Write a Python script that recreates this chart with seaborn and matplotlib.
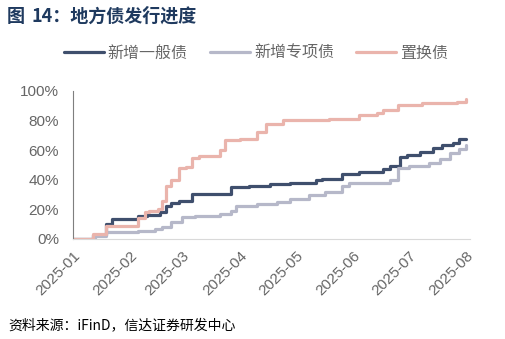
import matplotlib
matplotlib.use("Agg")
import matplotlib.pyplot as plt
from matplotlib.lines import Line2D
import seaborn as sns
import pandas as pd

# ---- data ----
dates_general = ["2025-01-01","2025-01-12","2025-01-19","2025-01-22","2025-02-05","2025-02-10","2025-02-17",
                 "2025-02-20","2025-02-23","2025-02-27","2025-03-06","2025-03-27","2025-04-06","2025-04-17",
                 "2025-04-28","2025-05-12","2025-05-15","2025-05-26","2025-06-04","2025-06-17","2025-06-21",
                 "2025-06-26","2025-06-30","2025-07-07","2025-07-14","2025-07-19","2025-07-25","2025-07-28","2025-08-01"]
vals_general = [0, 3, 10, 13.5, 15.5, 16, 18, 22, 24, 26, 30.4, 35, 35.8, 37, 38, 39.9, 40.8, 44, 45.3, 47,
                49.3, 55.2, 57, 58.8, 61.5, 63.3, 65, 67.5, 67.5]

dates_special = ["2025-01-01","2025-01-13","2025-01-19","2025-02-05","2025-02-14","2025-02-18","2025-02-23",
                 "2025-03-01","2025-03-08","2025-03-21","2025-03-27","2025-03-30","2025-04-10","2025-04-21",
                 "2025-04-28","2025-05-08","2025-05-17","2025-05-26","2025-05-30","2025-06-21","2025-06-25",
                 "2025-07-01","2025-07-12","2025-07-18","2025-07-23","2025-07-28","2025-08-01"]
vals_special = [0, 2, 4.7, 5.6, 7, 8.3, 11.5, 14.6, 15.5, 16.9, 18.7, 22.3, 23.6, 25, 27.3, 29.5, 31.8, 35.8,
                37.6, 39.9, 48, 49.3, 51.6, 54.3, 57.9, 60.6, 63.3]

dates_refi = ["2025-01-01","2025-01-12","2025-01-19","2025-02-05","2025-02-09","2025-02-11","2025-02-16",
              "2025-02-18","2025-02-20","2025-02-23","2025-02-27","2025-03-03","2025-03-06","2025-03-10",
              "2025-03-21","2025-03-24","2025-04-01","2025-04-10","2025-04-15","2025-04-24","2025-05-19",
              "2025-06-04","2025-06-14","2025-06-17","2025-06-25","2025-07-08","2025-07-27","2025-08-01"]
vals_refi = [0, 3.4, 8.8, 14, 18, 19, 20.5, 26, 35.8, 40, 48, 48.6, 54.7, 56, 60, 66.9, 67.5, 72.5, 77.5,
             80.4, 81.3, 83.6, 85.3, 87.2, 90.3, 91.7, 92.6, 94.8]

series_names = ["新增一般债", "新增专项债", "置换债"]
series_colors = ["#3F4F6D", "#B6B8C9", "#EAB4AC"]
y_ticks = [0, 0.2, 0.4, 0.6, 0.8, 1.0]
y_tick_labels = ["0%", "20%", "40%", "60%", "80%", "100%"]
x_ticks = ["2025-01-01","2025-02-01","2025-03-01","2025-04-01","2025-05-01","2025-06-01","2025-07-01","2025-08-01"]
x_tick_labels = ["2025-01","2025-02","2025-03","2025-04","2025-05","2025-06","2025-07","2025-08"]

title_fig = "图"
title_text = "14：地方债发行进度"
source = "资料来源：iFinD，信达证券研发中心"

frames = []
for name, d, v in zip(series_names, [dates_general, dates_special, dates_refi],
                      [vals_general, vals_special, vals_refi]):
    frames.append(pd.DataFrame({"date": pd.to_datetime(d), "value": [x / 100 for x in v], "series": name}))
df = pd.concat(frames, ignore_index=True)

sns.set_theme(style="white")
plt.rcParams["font.family"] = ["Liberation Sans", "Noto Sans CJK SC", "DejaVu Sans"]

fig = plt.figure(figsize=(5.06, 3.39), dpi=100)
ax = fig.add_axes([73 / 506, 1 - 239 / 339, (470 - 73) / 506, (239 - 91) / 339])

sns.lineplot(data=df, x="date", y="value", hue="series", hue_order=series_names,
             palette=series_colors, drawstyle="steps-post", linewidth=2.3, ax=ax,
             legend=False, estimator=None)

tick_color = "#666666"
ax.set_ylim(0, 1.0)
ax.set_xlim(pd.Timestamp("2025-01-01"), pd.Timestamp("2025-08-03"))
ax.set_yticks(y_ticks)
ax.set_yticklabels(y_tick_labels, color=tick_color, fontsize=11)
ax.set_xticks(pd.to_datetime(x_ticks))
ax.set_xticklabels(x_tick_labels, rotation=45, ha="right", rotation_mode="anchor",
                   color=tick_color, fontsize=11)
ax.set_xlabel("")
ax.set_ylabel("")
ax.tick_params(axis="y", direction="in", length=4, color="#7F7F7F", width=0.8, pad=10)
ax.tick_params(axis="x", direction="in", length=3, color="#D9D9D9", width=0.8, pad=7)
for s in ["top", "right"]:
    ax.spines[s].set_visible(False)
ax.spines["left"].set_color("#7F7F7F")
ax.spines["left"].set_linewidth(0.8)
ax.spines["bottom"].set_color("#D9D9D9")
ax.spines["bottom"].set_linewidth(0.8)

# legend
handles = [Line2D([0], [0], color=c, lw=2.3) for c in series_colors]
leg = fig.legend(handles, series_names, loc="center", bbox_to_anchor=(256 / 506, 1 - 53 / 339),
                 ncol=3, frameon=False, handlelength=2.5, handletextpad=0.25,
                 columnspacing=1.4, prop={"family": ["Noto Sans CJK SC"], "size": 11.5})
for t in leg.get_texts():
    t.set_color(tick_color)

fig.text(7 / 506, 1 - 16 / 339, title_fig, fontsize=13, fontweight="bold", color="#1F3A5F",
         va="center", ha="left", family=["Noto Sans CJK SC", "DejaVu Sans"])
fig.text(32 / 506, 1 - 16 / 339, title_text, fontsize=13, fontweight="bold", color="#1F3A5F",
         va="center", ha="left", family=["Noto Sans CJK SC", "DejaVu Sans"])
fig.text(8 / 506, 1 - 325 / 339, source, fontsize=10, color="#000000", style="italic",
         va="center", ha="left", family=["Noto Sans CJK SC", "DejaVu Sans"])

fig.savefig("out.png", dpi=100)
